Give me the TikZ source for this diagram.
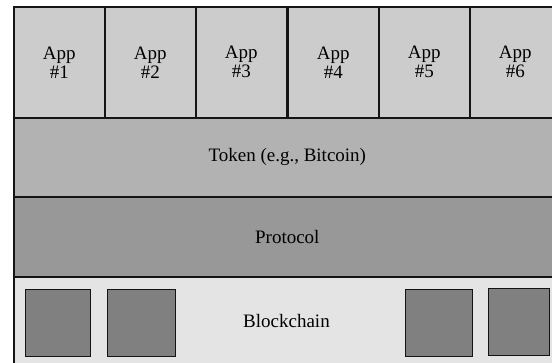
\documentclass[tikz,border=0pt]{standalone}
\usepackage{fontspec}
\setmainfont{Liberation Serif}
\definecolor{appfill}{RGB}{204,204,204}
\definecolor{tokenfill}{RGB}{178,178,178}
\definecolor{protofill}{RGB}{152,152,152}
\definecolor{chainfill}{RGB}{228,228,228}
\definecolor{blockfill}{RGB}{128,128,128}
\definecolor{edge}{RGB}{20,20,20}
\tikzset{
  layer/.style={draw=edge, line width=1.6pt, anchor=north west, inner sep=0pt, align=center,
    font=\fontsize{19}{19}\selectfont},
  appbox/.style={layer, fill=appfill, minimum width=91pt, minimum height=111pt},
  blockbox/.style={draw=edge, line width=1.4pt, fill=blockfill, anchor=north west, inner sep=0pt}
}
\begin{document}
\begin{tikzpicture}[x=1pt,y=-1pt]
\useasboundingbox (0,0) rectangle (552,362);
\clip (0,0) rectangle (552,362);
\fill[white] (0,0) rectangle (552,362);
% bottom layers first
\node[layer, fill=chainfill, minimum width=547pt, minimum height=94pt] (chain) at (13,276) {};
\node[font=\fontsize{19}{19}\selectfont] (chaintext) at (286.5,321) {Blockchain};
\node[layer, fill=protofill, minimum width=547pt, minimum height=80pt] (proto) at (13,196) {Protocol};
\node[layer, fill=tokenfill, minimum width=547pt, minimum height=79pt] (token) at (13,117) {Token (e.g., Bitcoin)};
\node[appbox] (app1) at (13,6) {App\\\#1};
\node[appbox] (app2) at (104,6) {App\\\#2};
\node[appbox] (app3) at (195,6) {App\\\#3};
\node[appbox] (app4) at (287,6) {App\\\#4};
\node[appbox] (app5) at (378,6) {App\\\#5};
\node[appbox] (app6) at (469,6) {App\\\#6};
% blocks
\node[blockbox, minimum width=65pt, minimum height=67pt] (b1) at (25,289) {};
\node[blockbox, minimum width=68pt, minimum height=67pt] (b2) at (107,289) {};
\node[blockbox, minimum width=67pt, minimum height=67pt] (b3) at (405,289) {};
\node[blockbox, minimum width=61pt, minimum height=67pt] (b4) at (488,288) {};
\end{tikzpicture}
\end{document}
